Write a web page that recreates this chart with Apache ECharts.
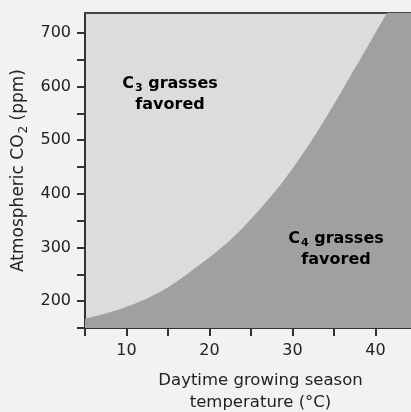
<!DOCTYPE html>
<html>
<head>
<meta charset="utf-8">
<script src="https://cdn.jsdelivr.net/npm/echarts@6/dist/echarts.min.js"></script>
<style>
  html, body { margin: 0; padding: 0; background: #f2f2f2; overflow: hidden; }
  #chart { width: 411px; height: 412px; }
</style>
</head>
<body>
<div id="chart"></div>
<script>
// Boundary between the C3- and C4-favoured regions:
// daytime growing-season temperature (°C) vs atmospheric CO2 (ppm)
const temperature = [5, 7, 9, 11, 13, 15, 17, 19, 21, 23, 25, 27, 29, 31, 33, 35, 37, 39, 41, 43, 45];
const boundaryCO2 = [167, 175, 184, 195, 209, 226, 247, 270, 294, 321, 353, 388, 426, 469, 516, 567, 620, 673, 727, 780, 833];

// Axis ticks and labels
const xTicks = [5, 10, 15, 20, 25, 30, 35, 40];
const xLabels = [10, 20, 30, 40];
const yTicks = [150, 200, 250, 300, 350, 400, 450, 500, 550, 600, 650, 700];
const yLabels = [200, 300, 400, 500, 600, 700];

const FONT = 'DejaVu Sans';
const INK = '#222';

const chart = echarts.init(document.getElementById('chart'), null, { renderer: 'canvas' });

const subRich = (weight, size) => ({
  n: { fontFamily: FONT, fontSize: size, fontWeight: weight, color: INK, lineHeight: 21 },
  s: { fontFamily: FONT, fontSize: Math.round(size * 0.7), fontWeight: weight, color: INK, lineHeight: 21, verticalAlign: 'bottom', padding: [0, 0, 0, 1] }
});

chart.setOption({
  backgroundColor: '#f2f2f2',
  animation: false,
  grid: {
    left: 85, top: 13, width: 332, bottom: 84,
    outerBoundsMode: 'none',
    show: true, backgroundColor: '#dcdcdc', borderWidth: 0
  },
  xAxis: [{
    type: 'value', min: 5, max: 45,
    name: 'Daytime growing season\ntemperature (°C)',
    nameLocation: 'middle', nameGap: 42,
    nameTextStyle: { fontFamily: FONT, fontSize: 16.5, color: INK, lineHeight: 22, padding: [0, 0, 0, 19] },
    axisLine: { show: true, onZero: false, lineStyle: { color: '#333', width: 2 } },
    axisTick: { show: true, length: 8, customValues: xTicks, lineStyle: { color: '#333', width: 2 } },
    axisLabel: { customValues: xLabels, margin: 15, fontFamily: FONT, fontSize: 16, color: INK },
    splitLine: { show: false }
  }, {
    // top frame line
    type: 'value', min: 5, max: 45, position: 'top',
    axisLine: { show: true, onZero: false, lineStyle: { color: '#444', width: 2 } },
    axisTick: { show: false }, axisLabel: { show: false }, splitLine: { show: false }
  }],
  yAxis: {
    type: 'value', min: 150, max: 737,
    name: '{n|Atmospheric CO}{s|2}{n| (ppm)}',
    nameLocation: 'middle', nameRotate: 90, nameGap: 55,
    nameTextStyle: { rich: subRich('normal', 17) },
    axisLine: { show: true, onZero: false, lineStyle: { color: '#333', width: 2 } },
    axisTick: { show: true, length: 8, customValues: yTicks, lineStyle: { color: '#333', width: 2 } },
    axisLabel: { customValues: yLabels, margin: 14, fontFamily: FONT, fontSize: 16, color: INK },
    splitLine: { show: false }
  },
  series: [{
    name: 'C4 region',
    type: 'line',
    data: temperature.map((t, i) => [t, boundaryCO2[i]]),
    smooth: 0.3,
    showSymbol: false,
    clip: true,
    lineStyle: { width: 0 },
    areaStyle: { color: '#a0a0a0', opacity: 1, origin: 'start' },
    z: 1
  }],
  graphic: [{
    type: 'text', x: 170, y: 73, z: 10,
    style: {
      text: '{n|C}{s|3}{n| grasses}\n{n|favored}',
      rich: subRich('bold', 16), align: 'center', verticalAlign: 'top'
    }
  }, {
    type: 'text', x: 336, y: 228, z: 10,
    style: {
      text: '{n|C}{s|4}{n| grasses}\n{n|favored}',
      rich: subRich('bold', 16), align: 'center', verticalAlign: 'top'
    }
  }]
});
</script>
</body>
</html>
